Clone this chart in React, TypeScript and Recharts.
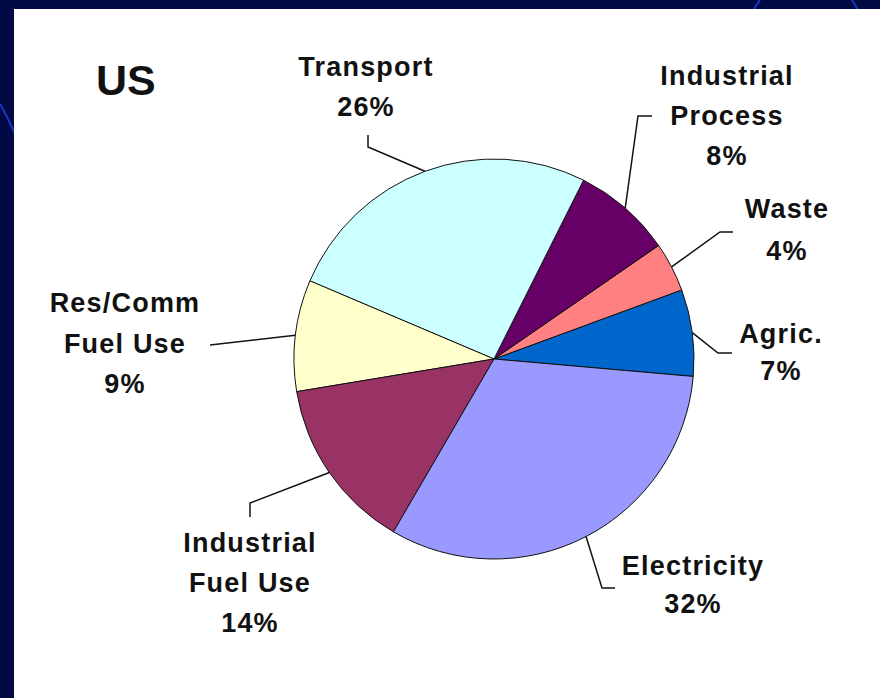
import React from 'react';
import { PieChart, Pie, Cell } from 'recharts';

// Categories, in drawing order (counter-clockwise from the right side)
const categories = [
  'Agric.',
  'Waste',
  'Industrial\nProcess',
  'Transport',
  'Res/Comm\nFuel Use',
  'Industrial\nFuel Use',
  'Electricity',
];

// Share of US emissions, percent
const shares = [7, 4, 8, 26, 9, 14, 32];

// Classic Excel palette colours per slice
const sliceColors = ['#0066CC', '#FF8080', '#660066', '#CCFFFF', '#FFFFCC', '#993366', '#9999FF'];

const chartData = categories.map((name, i) => ({ name, value: shares[i] }));

// Label placement relative to pie centre: text centre x, first baseline y,
// line gap, and the leader line elbow / end points.
const labelLayout = [
  { tx: 287, ty: -16, gap: 37, elbow: [224, -6], end: [238, -6] },
  { tx: 293, ty: -141, gap: 42, elbow: [226, -127], end: [239, -127] },
  { tx: 233, ty: -274, gap: 40, elbow: [144, -243], end: [158, -243] },
  { tx: -128, ty: -283, gap: 40, elbow: [-126, -212], end: [-126, -224] },
  { tx: -369, ty: -47, gap: 40.5, elbow: [-284, -14], end: [-284, -14] },
  { tx: -244, ty: 193, gap: 40, elbow: [-244, 144], end: [-244, 158] },
  { tx: 199, ty: 216, gap: 38, elbow: [108, 229], end: [121, 229] },
];

const FONT = '"Liberation Sans", Arial, sans-serif';
const RAD = Math.PI / 180;

const renderLabel = (props: any) => {
  const { cx, cy, midAngle, outerRadius, index, name, value } = props;
  const lay = labelLayout[index];
  const x0 = cx + outerRadius * Math.cos(-midAngle * RAD);
  const y0 = cy + outerRadius * Math.sin(-midAngle * RAD);
  const lines = [...String(name).split('\n'), `${value}%`];
  const pts = [
    [x0, y0],
    [cx + lay.elbow[0], cy + lay.elbow[1]],
    [cx + lay.end[0], cy + lay.end[1]],
  ]
    .map((p) => p.join(','))
    .join(' ');
  return (
    <g key={`lbl-${index}`}>
      <polyline points={pts} fill="none" stroke="#111" strokeWidth={1.5} />
      {lines.map((ln, i) => (
        <text
          key={i}
          x={cx + lay.tx}
          y={cy + lay.ty + i * lay.gap}
          textAnchor="middle"
          fontFamily={FONT}
          fontSize={27}
          fontWeight="bold"
          fill="#111"
          style={{ letterSpacing: '1.2px' }}
        >
          {ln}
        </text>
      ))}
    </g>
  );
};

export default function App() {
  return (
    <div style={{ position: 'absolute', left: 0, top: 0, width: 880, height: 698, background: '#020a45', overflow: 'hidden' }}>
      <svg width={880} height={698} style={{ position: 'absolute', left: 0, top: 0 }}>
        {/* faint decorative curves of the slide template */}
        <path d="M 0 104 Q 8 118 16 136" stroke="#1a36b8" strokeWidth={2} fill="none" />
        <path d="M 760 0 Q 755 6 752 14" stroke="#1a36b8" strokeWidth={2} fill="none" />
        <path d="M 852 0 Q 856 6 860 14" stroke="#1a36b8" strokeWidth={2} fill="none" />
        <rect x={14} y={9} width={866} height={689} fill="#ffffff" />
        <text x={96} y={95} fontFamily={FONT} fontSize={43} fontWeight="bold" fill="#111">
          US
        </text>
      </svg>
      <div style={{ position: 'absolute', left: 14, top: 9 }}>
        <PieChart width={866} height={689} margin={{ top: 0, right: 0, bottom: 0, left: 0 }}>
          <Pie
            data={chartData}
            dataKey="value"
            nameKey="name"
            cx={480}
            cy={350}
            outerRadius={200}
            startAngle={-5}
            endAngle={355}
            stroke="#111"
            strokeWidth={1}
            label={renderLabel}
            labelLine={false}
            isAnimationActive={false}
          >
            {chartData.map((d, i) => (
              <Cell key={d.name} fill={sliceColors[i]} />
            ))}
          </Pie>
        </PieChart>
      </div>
    </div>
  );
}
